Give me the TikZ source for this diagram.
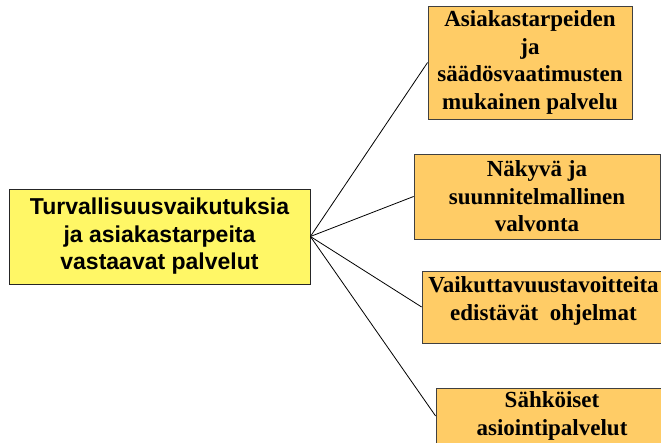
\documentclass[tikz,border=0pt]{standalone}
\usepackage{fontspec}
\setmainfont{Liberation Serif}
\newfontfamily\arialfont{Liberation Sans}
\usetikzlibrary{positioning}
\definecolor{sideorange}{RGB}{255,204,102}
\tikzset{
  palvelut/.style={
	x=1pt, y=1pt, % one unit is one pixel of the picture
	line width=0.8pt, % thin connectors and frames
	mainbox/.style={draw=black!85, fill=yellow!60, inner sep=0pt, align=flush center,
		font=\arialfont\bfseries\fontsize{23}{27.5}\selectfont}, % the yellow box on the left
	sidebox/.style={draw=black!75, fill=sideorange, inner sep=0pt, align=flush center,
		font=\bfseries\fontsize{23}{27.5}\selectfont}, % the orange boxes on the right
  }
}
\begin{document}
\begin{tikzpicture}[palvelut]
\clip (0,0) rectangle (661,443);
\node[mainbox, text width=301pt, minimum height=95pt] (main) at (159.5,206.5) {Turvallisuusvaikutuksia\\ja asiakastarpeita\\vastaavat palvelut};
\node[sidebox, text width=204pt, minimum height=113pt] (asiakas) at (530,380.5) {Asiakastarpeiden\\ja\\säädösvaatimusten\\mukainen palvelu};
\node[sidebox, text width=246pt, minimum height=85pt] (valvonta) at (537,246.5) {Näkyvä ja\\suunnitelmallinen\\valvonta};
\node[sidebox, text width=243pt, text height=22pt, text depth=50pt] (ohjelmat) at (543.5,136) {Vaikuttavuustavoitteita\\edistävät\ \ ohjelmat};
\node[sidebox, text width=232pt, minimum height=56pt] (asiointi) at (552,27) {Sähköiset\\asiointipalvelut};

\draw   (main.east) edge (asiakas.west)
	(main.east) edge (valvonta.west)
	(main.east) edge (ohjelmat.west)
	(main.east) edge (asiointi.west)
;
\end{tikzpicture}
\end{document}
